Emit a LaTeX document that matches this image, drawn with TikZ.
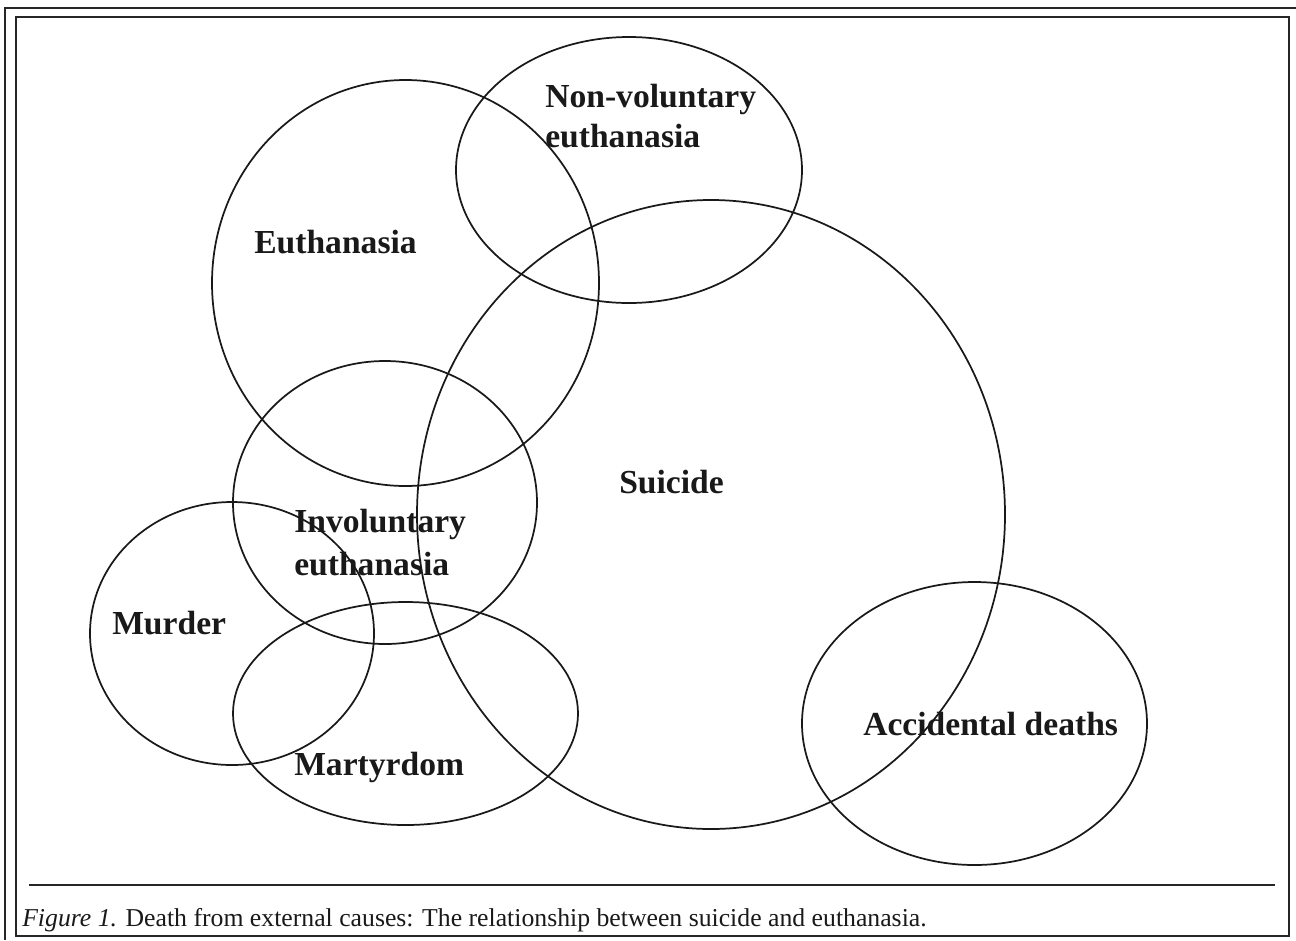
\documentclass[tikz,border=0pt]{standalone}
\usepackage{fontspec}
\setmainfont{Liberation Serif}
\begin{document}
\begin{tikzpicture}[x=0.75pt,y=-0.75pt,
  ring/.style={line width=1.3pt,draw=black!90},
  frameline/.style={line width=1.2pt,draw=black!85},
  lab/.style={inner sep=0pt,anchor=base west,font=\fontsize{25.2}{30}\selectfont\bfseries,text=black!90},
  captext/.style={inner sep=0pt,anchor=base west,font=\fontsize{19.3}{23}\selectfont,text=black!90}]
\useasboundingbox (0,0) rectangle (1296,940);
% frames
\draw[frameline] (5,940) -- (5,8) -- (1296,8);
\draw[frameline] (16,17) rectangle (1289,936);
\coordinate (capL) at (29,885);
\coordinate (capR) at (1275,885);
\draw[line width=1.0pt,draw=black!85] (capL) -- (capR);
% ellipses
\draw[ring] (405.5,283) ellipse [x radius=193.5, y radius=203];
\draw[ring] (629,170) ellipse [x radius=173, y radius=133];
\draw[ring] (711,514.5) ellipse [x radius=294, y radius=314.5];
\draw[ring] (385,502.5) ellipse [x radius=152, y radius=141.5];
\draw[ring] (232,633.5) ellipse [x radius=142, y radius=131.5];
\draw[ring] (405.5,713.5) ellipse [x radius=172.5, y radius=111.5];
\draw[ring] (974.5,723.5) ellipse [x radius=172.5, y radius=141.5];
% labels
\node[lab] (euth) at (254,253) {Euthanasia};
\node[lab] (nonvolA) at (545,107) {Non-voluntary};
\node[lab] (nonvolB) at (545,147) {euthanasia};
\node[lab] (suic) at (619,493) {Suicide};
\node[lab] (involA) at (294,532) {Involuntary};
\node[lab] (involB) at (294,575) {euthanasia};
\node[lab] (murd) at (112,634) {Murder};
\node[lab] (mart) at (294,775) {Martyrdom};
\node[lab] (acc) at (863,735) {Accidental deaths};
\node[captext] (caption) at (22,926) {\textit{Figure 1.} Death from external causes: The relationship between suicide and euthanasia.};
\end{tikzpicture}
\end{document}
